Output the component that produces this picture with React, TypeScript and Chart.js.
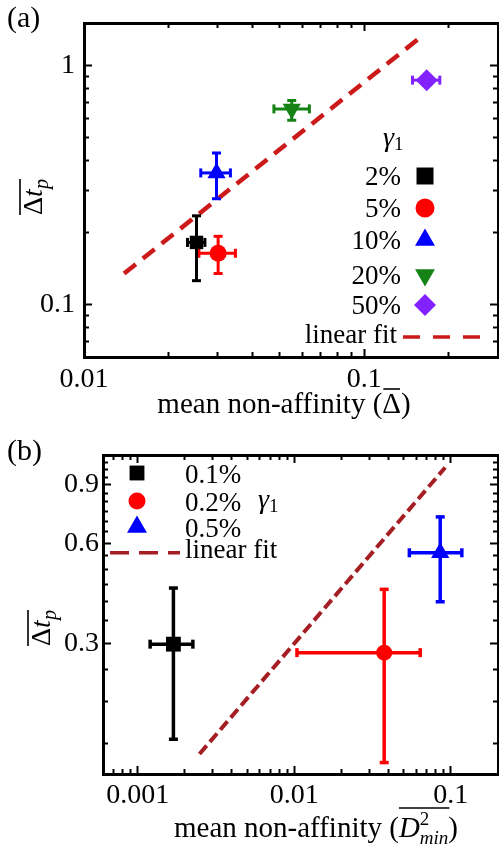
import React, { useEffect, useRef } from 'react';
import { Chart, registerables } from 'chart.js';

Chart.register(...registerables);

const SERIF = '"Liberation Serif", "Times New Roman", serif';

// ---------------- Panel (a) data ----------------
const A_SERIES = ['2%', '5%', '10%', '20%', '50%'];
const A_X = [0.0252, 0.0301, 0.0297, 0.0551, 0.167];
const A_Y = [0.182, 0.164, 0.355, 0.657, 0.866];
const A_X_LO = [0.0234, 0.0257, 0.0261, 0.0476, 0.1486];
const A_X_HI = [0.027, 0.0347, 0.0333, 0.0637, 0.186];
const A_Y_LO = [0.126, 0.135, 0.277, 0.589, 0.85];
const A_Y_HI = [0.235, 0.193, 0.43, 0.712, 0.88];
const A_FIT_X = [0.0139, 0.159];
const A_FIT_Y = [0.135, 1.31];
const A_X_MAJOR = [0.01, 0.1];
const A_X_MAJOR_LABELS = ['0.01', '0.1'];
const A_X_MINOR = [0.02, 0.03, 0.04, 0.05, 0.06, 0.07, 0.08, 0.09, 0.2, 0.3];
const A_Y_MAJOR = [0.1, 1];
const A_Y_MAJOR_LABELS = ['0.1', '1'];
const A_Y_MINOR = [0.07, 0.08, 0.09, 0.2, 0.3, 0.4, 0.5, 0.6, 0.7, 0.8, 0.9];

// ---------------- Panel (b) data ----------------
const B_SERIES = ['0.1%', '0.2%', '0.5%'];
const B_X = [0.00169, 0.0375, 0.0855];
const B_Y = [0.298, 0.281, 0.562];
const B_X_LO = [0.0012, 0.0104, 0.0543];
const B_X_HI = [0.00225, 0.0637, 0.1175];
const B_Y_LO = [0.154, 0.131, 0.4];
const B_Y_HI = [0.44, 0.436, 0.721];
const B_FIT_X = [0.00248, 0.092];
const B_FIT_Y = [0.139, 1.016];
const B_X_MAJOR = [0.001, 0.01, 0.1];
const B_X_MAJOR_LABELS = ['0.001', '0.01', '0.1'];
const B_X_MINOR = [
  0.0006, 0.0007, 0.0008, 0.0009,
  0.002, 0.003, 0.004, 0.005, 0.006, 0.007, 0.008, 0.009,
  0.02, 0.03, 0.04, 0.05, 0.06, 0.07, 0.08, 0.09, 0.2,
];
const B_Y_MAJOR = [0.3, 0.6, 0.9];
const B_Y_MAJOR_LABELS = ['0.3', '0.6', '0.9'];
const B_Y_MINOR = [0.15, 0.2, 0.25, 0.35, 0.4, 0.45, 0.5, 0.55, 0.65, 0.7, 0.75, 0.8, 0.85, 0.95, 1.0, 1.05];

const FIT_LABEL = 'linear fit';

// ---------------- styles ----------------
type Shape = 'rect' | 'circle' | 'triangle' | 'triangleDown' | 'rectRot';
const A_COLORS = ['#000000', '#ff0000', '#0000ff', '#148214', '#8222ff'];
const A_SHAPES: Shape[] = ['rect', 'circle', 'triangle', 'triangleDown', 'rectRot'];
const A_RADII = [9.5, 8.5, 10.5, 10.5, 11];
const A_LEG_RADII = [12, 9.5, 11.5, 11.5, 11];
const B_COLORS = ['#000000', '#ff0000', '#0000ff'];
const B_SHAPES: Shape[] = ['rect', 'circle', 'triangle'];
const B_RADII = [10.5, 8, 10.5];
const B_LEG_RADII = [10.5, 8.5, 11.5];

type Run = { t: string; size: number; italic?: boolean; dy?: number; noAdvance?: boolean };

function runFont(r: Run) {
  return `${r.italic ? 'italic ' : ''}${r.size}px ${SERIF}`;
}

function layoutRuns(ctx: CanvasRenderingContext2D, runs: Run[], x0: number) {
  const pos: { x: number; w: number }[] = [];
  let x = x0;
  let carry = 0;
  for (const r of runs) {
    ctx.font = runFont(r);
    const w = ctx.measureText(r.t).width;
    pos.push({ x, w });
    if (r.noAdvance) carry = Math.max(carry, w);
    else {
      x += Math.max(w, carry);
      carry = 0;
    }
  }
  return { pos, width: x - x0 };
}

function drawRuns(
  ctx: CanvasRenderingContext2D,
  runs: Run[],
  x0: number,
  baseline: number,
  align: 'left' | 'center' | 'right'
) {
  const { width } = layoutRuns(ctx, runs, 0);
  const start = align === 'left' ? x0 : align === 'center' ? x0 - width / 2 : x0 - width;
  const { pos } = layoutRuns(ctx, runs, start);
  ctx.textAlign = 'left';
  ctx.textBaseline = 'alphabetic';
  runs.forEach((r, i) => {
    ctx.font = runFont(r);
    ctx.fillText(r.t, pos[i].x, baseline + (r.dy || 0));
  });
  return pos;
}

function hLine(ctx: CanvasRenderingContext2D, x1: number, x2: number, y: number, w: number, color = '#000', dash: number[] = []) {
  ctx.save();
  ctx.strokeStyle = color;
  ctx.lineWidth = w;
  ctx.setLineDash(dash);
  ctx.beginPath();
  ctx.moveTo(x1, y);
  ctx.lineTo(x2, y);
  ctx.stroke();
  ctx.restore();
}

function drawMarker(ctx: CanvasRenderingContext2D, shape: Shape, x: number, y: number, r: number, color: string) {
  ctx.save();
  ctx.fillStyle = color;
  ctx.beginPath();
  if (shape === 'rect') {
    const s = r * Math.SQRT1_2;
    ctx.rect(x - s, y - s, 2 * s, 2 * s);
  } else if (shape === 'circle') {
    ctx.arc(x, y, r, 0, Math.PI * 2);
  } else if (shape === 'rectRot') {
    ctx.moveTo(x, y - r);
    ctx.lineTo(x + r, y);
    ctx.lineTo(x, y + r);
    ctx.lineTo(x - r, y);
  } else {
    const base = shape === 'triangleDown' ? Math.PI : 0;
    for (let k = 0; k < 3; k++) {
      const a = base + (k * 2 * Math.PI) / 3;
      const px = x + r * Math.sin(a);
      const py = y - r * Math.cos(a);
      if (k === 0) ctx.moveTo(px, py);
      else ctx.lineTo(px, py);
    }
  }
  ctx.closePath();
  ctx.fill();
  ctx.restore();
}

interface PanelSpec {
  width: number;
  height: number;
  area: { left: number; top: number; right: number; bottom: number };
  xMin: number;
  xMax: number;
  yMin: number;
  yMax: number;
  xMajor: number[];
  xMajorLabels: string[];
  xMinor: number[];
  yMajor: number[];
  yMajorLabels: string[];
  yMinor: number[];
  xLabelPad: number;
  yLabelPad: number;
  tickFont: number;
  series: string[];
  colors: string[];
  shapes: Shape[];
  radii: number[];
  x: number[];
  y: number[];
  xLo: number[];
  xHi: number[];
  yLo: number[];
  yHi: number[];
  fitX: number[];
  fitY: number[];
  fitColor: string;
  fitDash: number[];
  fitWidth: number;
  errWidth: number;
  capR: number;
  overlay: (chart: any, spec: PanelSpec) => void;
}

function makeAxis(
  dir: 'x' | 'y',
  position: string,
  min: number,
  max: number,
  values: number[],
  labels: string[] | null,
  tickLength: number,
  size: number,
  pad: number,
  border: number,
  weight: number,
  fontSize: number
) {
  return {
    type: 'logarithmic',
    axis: dir,
    position,
    min,
    max,
    weight,
    afterBuildTicks: (s: any) => {
      s.ticks = values.map((v) => ({ value: v }));
    },
    afterFit: (s: any) => {
      if (dir === 'x') s.height = size;
      else s.width = size;
      s.paddingLeft = 0;
      s.paddingRight = 0;
      s.paddingTop = 0;
      s.paddingBottom = 0;
    },
    border: { display: border > 0, width: border, color: '#000' },
    grid: {
      display: true,
      drawOnChartArea: false,
      drawTicks: true,
      tickLength,
      tickWidth: 2,
      tickColor: '#000',
    },
    ticks: {
      display: !!labels,
      autoSkip: false,
      maxRotation: 0,
      minRotation: 0,
      padding: pad,
      color: '#000',
      font: { family: SERIF, size: fontSize },
      callback: (_v: any, i: number) => (labels ? labels[i] ?? '' : ''),
    },
  };
}

function buildConfig(spec: PanelSpec) {
  const datasets: any[] = [];
  datasets.push({
    label: FIT_LABEL,
    data: spec.fitX.map((x, i) => ({ x, y: spec.fitY[i] })),
    showLine: true,
    borderColor: spec.fitColor,
    borderWidth: spec.fitWidth,
    borderDash: spec.fitDash,
    pointRadius: 0,
    order: 3,
  });
  spec.series.forEach((name, i) => {
    const c = spec.colors[i];
    const errBase = {
      showLine: true,
      borderColor: c,
      backgroundColor: c,
      borderWidth: spec.errWidth,
      pointStyle: 'line',
      pointRadius: spec.capR,
      pointBorderWidth: spec.errWidth,
      pointBorderColor: c,
      order: 2,
    };
    datasets.push({
      ...errBase,
      label: name + ' x-err',
      data: [
        { x: spec.xLo[i], y: spec.y[i] },
        { x: spec.xHi[i], y: spec.y[i] },
      ],
      pointRotation: 90,
    });
    datasets.push({
      ...errBase,
      label: name + ' y-err',
      data: [
        { x: spec.x[i], y: spec.yLo[i] },
        { x: spec.x[i], y: spec.yHi[i] },
      ],
      pointRotation: 0,
    });
    const shape = spec.shapes[i];
    datasets.push({
      label: name,
      data: [{ x: spec.x[i], y: spec.y[i] }],
      pointStyle: shape === 'triangleDown' ? 'triangle' : shape,
      pointRotation: shape === 'triangleDown' ? 180 : 0,
      pointRadius: spec.radii[i],
      backgroundColor: c,
      borderColor: c,
      borderWidth: 0,
      order: 1,
    });
  });

  const a = spec.area;
  const bottomH = spec.height - a.bottom;
  const leftW = a.left;
  const fs = spec.tickFont;
  const scales: any = {
    x: makeAxis('x', 'bottom', spec.xMin, spec.xMax, spec.xMajor, spec.xMajorLabels, -8, bottomH, spec.xLabelPad, 3, 1, fs),
    xm: makeAxis('x', 'bottom', spec.xMin, spec.xMax, spec.xMinor, null, -5, 0, 0, 0, 0, fs),
    xt: makeAxis('x', 'top', spec.xMin, spec.xMax, spec.xMajor, null, -8, 0, 0, 3, 1, fs),
    xtm: makeAxis('x', 'top', spec.xMin, spec.xMax, spec.xMinor, null, -5, 0, 0, 0, 0, fs),
    y: makeAxis('y', 'left', spec.yMin, spec.yMax, spec.yMajor, spec.yMajorLabels, -8, leftW, spec.yLabelPad, 3, 1, fs),
    ym: makeAxis('y', 'left', spec.yMin, spec.yMax, spec.yMinor, null, -5, 0, 0, 0, 0, fs),
    yr: makeAxis('y', 'right', spec.yMin, spec.yMax, spec.yMajor, null, -8, 0, 0, 3, 1, fs),
    yrm: makeAxis('y', 'right', spec.yMin, spec.yMax, spec.yMinor, null, -5, 0, 0, 0, 0, fs),
  };

  return {
    type: 'scatter',
    data: { datasets },
    options: {
      responsive: false,
      animation: false,
      events: [],
      layout: {
        padding: { left: 0, top: a.top, right: spec.width - a.right, bottom: 0 },
      },
      plugins: { legend: { display: false }, tooltip: { enabled: false }, title: { display: false } },
      scales,
    },
    plugins: [
      {
        // pin the plot frame to the exact target rectangle
        id: 'pinArea',
        afterLayout: (chart: any) => {
          const ar = spec.area;
          const ca = chart.chartArea;
          ca.left = ar.left;
          ca.right = ar.right;
          ca.top = ar.top;
          ca.bottom = ar.bottom;
          ca.width = ar.right - ar.left;
          ca.height = ar.bottom - ar.top;
          Object.values(chart.scales).forEach((s: any) => {
            if (s.isHorizontal()) {
              s.left = ar.left;
              s.right = ar.right;
              s.width = ar.right - ar.left;
              if (s.position === 'bottom') {
                s.top = ar.bottom;
                s.bottom = ar.bottom + s.height;
              } else {
                s.bottom = ar.top;
                s.top = ar.top - s.height;
              }
            } else {
              s.top = ar.top;
              s.bottom = ar.bottom;
              s.height = ar.bottom - ar.top;
              if (s.position === 'left') {
                s.right = ar.left;
                s.left = ar.left - s.width;
              } else {
                s.left = ar.right;
                s.right = ar.right + s.width;
              }
            }
            s.configure();
          });
        },
      },
      {
        id: 'overlay',
        afterDraw: (chart: any) => spec.overlay(chart, spec),
      },
    ],
  };
}

// ---------------- overlays (titles, legends, panel labels) ----------------
function overlayA(chart: any, spec: PanelSpec) {
  const ctx: CanvasRenderingContext2D = chart.ctx;
  ctx.save();
  ctx.fillStyle = '#000';
  drawRuns(ctx, [{ t: '(a)', size: 30 }], 7, 27, 'left');

  // x title
  const px = drawRuns(
    ctx,
    [
      { t: 'mean non-affinity (', size: 29 },
      { t: 'Δ', size: 29 },
      { t: ')', size: 29 },
    ],
    284,
    413,
    'center'
  );
  hLine(ctx, px[1].x + 1, px[1].x + px[1].w - 1, 389, 1.6);

  // y title
  ctx.save();
  ctx.translate(42, 197);
  ctx.rotate(-Math.PI / 2);
  const py = drawRuns(
    ctx,
    [
      { t: 'Δ', size: 28 },
      { t: 't', size: 28, italic: true },
      { t: 'p', size: 20, italic: true, dy: 6 },
    ],
    0,
    0,
    'center'
  );
  hLine(ctx, py[0].x, py[2].x + py[2].w, -22, 1.6);
  ctx.restore();

  // legend
  drawRuns(ctx, [{ t: 'γ', size: 28, italic: true }, { t: '1', size: 19, dy: 4 }], 383, 146, 'left');
  const rows = [176, 208, 240, 275, 305];
  spec.series.forEach((name, i) => {
    drawRuns(ctx, [{ t: name, size: 27 }], 401, rows[i] + 9, 'right');
    drawMarker(ctx, spec.shapes[i], 425, rows[i], A_LEG_RADII[i], spec.colors[i]);
  });
  drawRuns(ctx, [{ t: FIT_LABEL, size: 27 }], 397, 343, 'right');
  hLine(ctx, 403, 493, 337, 3.5, spec.fitColor, [17, 13]);
  ctx.restore();
}

function overlayB(chart: any, spec: PanelSpec) {
  const ctx: CanvasRenderingContext2D = chart.ctx;
  ctx.save();
  ctx.fillStyle = '#000';
  drawRuns(ctx, [{ t: '(b)', size: 30 }], 7, 40, 'left');

  // x title
  const px = drawRuns(
    ctx,
    [
      { t: 'mean non-affinity (', size: 29 },
      { t: 'D', size: 29, italic: true },
      { t: '2', size: 19, dy: -12, noAdvance: true },
      { t: 'min', size: 19, italic: true, dy: 7 },
      { t: ')', size: 29 },
    ],
    316,
    417,
    'center'
  );
  hLine(ctx, px[1].x, px[3].x + px[3].w + 1, 388, 1.6);

  // y title
  ctx.save();
  ctx.translate(50, 208);
  ctx.rotate(-Math.PI / 2);
  const py = drawRuns(
    ctx,
    [
      { t: 'Δ', size: 28 },
      { t: 't', size: 28, italic: true },
      { t: 'p', size: 20, italic: true, dy: 6 },
    ],
    0,
    0,
    'center'
  );
  hLine(ctx, py[0].x, py[2].x + py[2].w, -22, 1.6);
  ctx.restore();

  // legend
  const rows = [53, 81, 107];
  spec.series.forEach((name, i) => {
    drawMarker(ctx, spec.shapes[i], 137, rows[i], B_LEG_RADII[i], spec.colors[i]);
    drawRuns(ctx, [{ t: name, size: 27 }], 185, rows[i] + 10, 'left');
  });
  drawRuns(ctx, [{ t: 'γ', size: 28, italic: true }, { t: '1', size: 19, dy: 4 }], 258, 88, 'left');
  hLine(ctx, 110, 180, 132.7, 3.5, spec.fitColor, [19, 10]);
  drawRuns(ctx, [{ t: FIT_LABEL, size: 27 }], 185, 138, 'left');
  ctx.restore();
}

const SPEC_A: PanelSpec = {
  width: 499,
  height: 420,
  area: { left: 84, top: 23, right: 498, bottom: 357 },
  xMin: 0.01,
  xMax: 0.3,
  yMin: 0.0605,
  yMax: 1.5,
  xMajor: A_X_MAJOR,
  xMajorLabels: A_X_MAJOR_LABELS,
  xMinor: A_X_MINOR,
  yMajor: A_Y_MAJOR,
  yMajorLabels: A_Y_MAJOR_LABELS,
  yMinor: A_Y_MINOR,
  xLabelPad: 14,
  yLabelPad: 17,
  tickFont: 28,
  series: A_SERIES,
  colors: A_COLORS,
  shapes: A_SHAPES,
  radii: A_RADII,
  x: A_X,
  y: A_Y,
  xLo: A_X_LO,
  xHi: A_X_HI,
  yLo: A_Y_LO,
  yHi: A_Y_HI,
  fitX: A_FIT_X,
  fitY: A_FIT_Y,
  fitColor: '#cc1a1a',
  fitDash: [15, 9],
  fitWidth: 4.5,
  errWidth: 3,
  capR: 4.5,
  overlay: overlayA,
};

const SPEC_B: PanelSpec = {
  width: 499,
  height: 426,
  area: { left: 103, top: 35, right: 498, bottom: 354 },
  xMin: 0.0006,
  xMax: 0.2,
  yMin: 0.121,
  yMax: 1.108,
  xMajor: B_X_MAJOR,
  xMajorLabels: B_X_MAJOR_LABELS,
  xMinor: B_X_MINOR,
  yMajor: B_Y_MAJOR,
  yMajorLabels: B_Y_MAJOR_LABELS,
  yMinor: B_Y_MINOR,
  xLabelPad: 12.5,
  yLabelPad: 12,
  tickFont: 28,
  series: B_SERIES,
  colors: B_COLORS,
  shapes: B_SHAPES,
  radii: B_RADII,
  x: B_X,
  y: B_Y,
  xLo: B_X_LO,
  xHi: B_X_HI,
  yLo: B_Y_LO,
  yHi: B_Y_HI,
  fitX: B_FIT_X,
  fitY: B_FIT_Y,
  fitColor: '#a41e24',
  fitDash: [11, 5],
  fitWidth: 4,
  errWidth: 3.5,
  capR: 4.5,
  overlay: overlayB,
};

function Panel({ spec, top }: { spec: PanelSpec; top: number }) {
  const ref = useRef<HTMLCanvasElement | null>(null);
  useEffect(() => {
    const canvas = ref.current;
    if (!canvas) return;
    const chart = new Chart(canvas, buildConfig(spec) as any);
    return () => chart.destroy();
  }, [spec]);
  return (
    <canvas
      ref={ref}
      width={spec.width}
      height={spec.height}
      style={{ position: 'absolute', left: 0, top, width: spec.width, height: spec.height, display: 'block' }}
    />
  );
}

export default function App() {
  return (
    <div style={{ position: 'absolute', left: 0, top: 0, width: 499, height: 846, background: '#fff', overflow: 'hidden' }}>
      <Panel spec={SPEC_A} top={0} />
      <Panel spec={SPEC_B} top={420} />
    </div>
  );
}
